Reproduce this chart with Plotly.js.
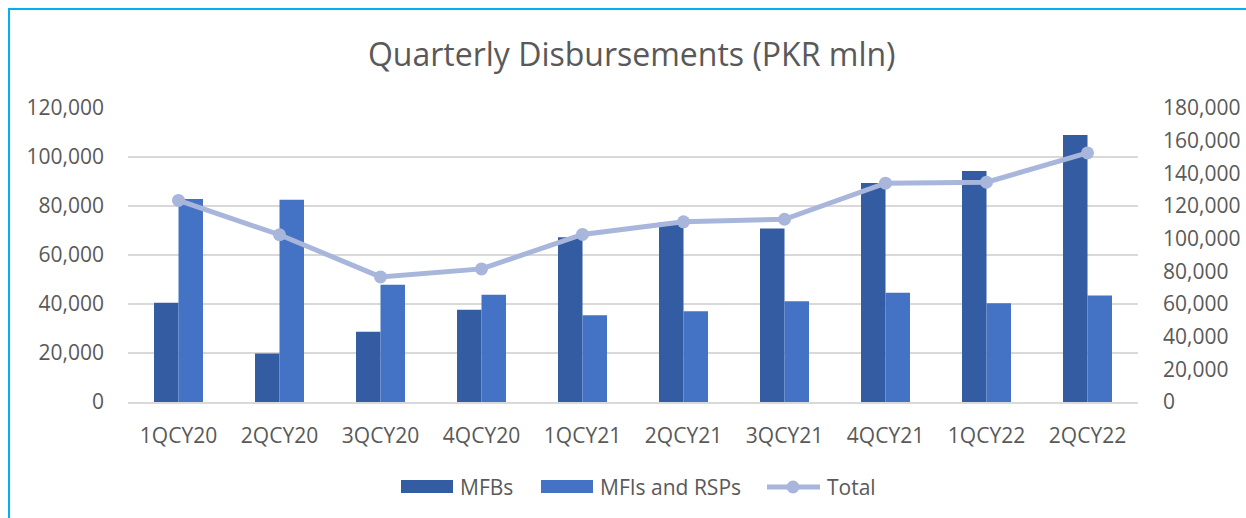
<!DOCTYPE html>
<html>
<head>
<meta charset="utf-8">
<script src="https://cdn.plot.ly/plotly-3.0.1.min.js"></script>
<style>
  html, body { margin: 0; padding: 0; width: 1246px; height: 518px; overflow: hidden; background: #fff; }
  #chart { position: absolute; left: 0; top: 0; width: 1246px; height: 518px; }
  #frame { position: absolute; left: 8px; top: 8px; width: 1400px; height: 700px; border: 2px solid #00B0F0; pointer-events: none; }
</style>
</head>
<body>
<div id="chart"></div>
<div id="frame"></div>
<script>
const categories = ["1QCY20","2QCY20","3QCY20","4QCY20","1QCY21","2QCY21","3QCY21","4QCY21","1QCY22","2QCY22"];
const mfbs = [40500, 19800, 28700, 37700, 67200, 73300, 70800, 89400, 94300, 109000];
const mfis = [82900, 82600, 47900, 43800, 35400, 37000, 41100, 44600, 40300, 43500];
const total = [123400, 102400, 76600, 81500, 102600, 110300, 111900, 134000, 134600, 152500];
const leftTicks = [0, 20000, 40000, 60000, 80000, 100000, 120000];
const rightTicks = [0, 20000, 40000, 60000, 80000, 100000, 120000, 140000, 160000, 180000];
const seriesNames = ["MFBs", "MFIs and RSPs", "Total"];
const seriesColors = ["#345CA2", "#4472C4", "#A8B6DC"];

const fontFam = "Open Sans, sans-serif";
const txt = "#595959";

// plot-area geometry (pixels) used to place the custom legend
const W = 1246, H = 518, mL = 128, mR = 108, mT = 108, mB = 116;
const pw = W - mL - mR, ph = H - mT - mB;
const px = v => (v - mL) / pw;
const py = v => (H - mB - v) / ph;

const traces = [
  { type: "bar", name: seriesNames[0], x: categories, y: mfbs, marker: { color: seriesColors[0] }, yaxis: "y", showlegend: false },
  { type: "bar", name: seriesNames[1], x: categories, y: mfis, marker: { color: seriesColors[1] }, yaxis: "y", showlegend: false },
  { type: "scatter", mode: "lines+markers", name: seriesNames[2], x: categories, y: total, yaxis: "y2", showlegend: false,
    line: { color: seriesColors[2], width: 5 }, marker: { color: seriesColors[2], size: 13 } }
];

// custom legend (wide swatches like the original)
const legY = 487;
const shapes = [
  { type: "rect", xref: "paper", yref: "paper", x0: px(401), x1: px(453), y0: py(493), y1: py(480), fillcolor: seriesColors[0], line: { width: 0 } },
  { type: "rect", xref: "paper", yref: "paper", x0: px(541), x1: px(593), y0: py(493), y1: py(480), fillcolor: seriesColors[1], line: { width: 0 } },
  { type: "line", xref: "paper", yref: "paper", x0: px(767), x1: px(820), y0: py(legY), y1: py(legY), line: { color: seriesColors[2], width: 5 } },
  { type: "circle", xref: "paper", yref: "paper", x0: px(786.5), x1: px(799.5), y0: py(legY + 6.5), y1: py(legY - 6.5), fillcolor: seriesColors[2], line: { width: 0 } }
];
const legTextX = [458, 598, 825];
const annotations = seriesNames.map((n, i) => ({
  text: n, xref: "paper", yref: "paper", x: px(legTextX[i]), y: py(legY), xanchor: "left", yanchor: "middle",
  showarrow: false, font: { family: fontFam, size: 21, color: txt }
}));

const layout = {
  width: W, height: H,
  margin: { l: mL, r: mR, t: mT, b: mB },
  paper_bgcolor: "#fff", plot_bgcolor: "#fff",
  font: { family: fontFam, size: 21, color: txt },
  title: { text: "Quarterly Disbursements (PKR mln)", font: { family: fontFam, size: 32, color: txt },
           x: 0.507, xanchor: "center", y: 0.895, yanchor: "middle" },
  barmode: "group", bargap: 0.515, bargroupgap: 0,
  showlegend: false,
  shapes: shapes,
  annotations: annotations,
  xaxis: { type: "category", range: [-0.5, categories.length - 0.5], automargin: false, showgrid: false, showline: true, linecolor: "#D9D9D9", linewidth: 2,
           ticks: "", ticklabelstandoff: 14, tickfont: { family: fontFam, size: 21, color: txt } },
  yaxis: { range: [0, 120000], automargin: false, tickvals: leftTicks, ticktext: leftTicks.map(v => v.toLocaleString("en-US")),
           showgrid: true, gridcolor: "#D9D9D9", gridwidth: 2, zeroline: false, showline: false, ticks: "",
           ticklabelstandoff: 23, tickfont: { family: fontFam, size: 21, color: txt } },
  yaxis2: { range: [0, 180000], automargin: false, overlaying: "y", side: "right", tickvals: rightTicks, ticktext: rightTicks.map(v => v.toLocaleString("en-US")),
            showgrid: false, zeroline: false, showline: false, ticks: "", ticklabelstandoff: 24,
            tickfont: { family: fontFam, size: 21, color: txt } }
};

Plotly.newPlot("chart", traces, layout, { displayModeBar: false, staticPlot: true });
</script>
</body>
</html>
